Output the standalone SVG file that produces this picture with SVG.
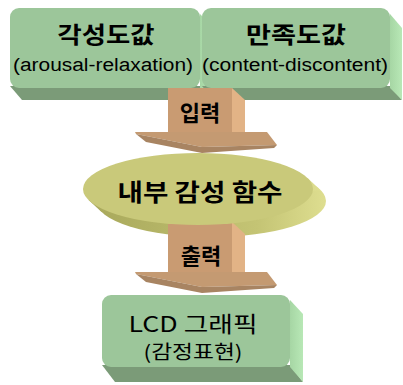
<svg xmlns="http://www.w3.org/2000/svg" width="403" height="385" viewBox="0 0 403 385">
<defs>
<style>
.front{fill:#9cc69a}
.bottom{fill:#7b9b78}
.side{fill:url(#gside)}
.ashaft{fill:#c99b72}
.aside{fill:#e2b386}
.alight{fill:#c49a72}
.adark{fill:#a88462}
.kr{font-family:"Noto Sans CJK KR","Noto Sans",sans-serif;fill:#000;text-anchor:middle}
.lat{font-family:"Liberation Sans","DejaVu Sans",sans-serif;fill:#000;text-anchor:middle}
</style>
<linearGradient id="gside" x1="0" y1="0" x2="1" y2="0">
<stop offset="0" stop-color="#a6d6a4"/>
<stop offset="1" stop-color="#b8e8b6"/>
</linearGradient>
<linearGradient id="gell" x1="0" y1="0" x2="1" y2="0">
<stop offset="0" stop-color="#a9a95c"/>
<stop offset="0.7" stop-color="#c4c474"/>
<stop offset="1" stop-color="#dede90"/>
</linearGradient>
</defs>

<g id="box-arousal">
<polygon class="bottom" points="10,86 200,86 212,100 22,100"/>
<polygon class="side" points="200,14 212,26 212,100 200,88"/>
<rect class="front" x="10" y="8" width="190" height="80" rx="9"/>
<text class="kr" x="106" y="43" font-size="23" font-weight="bold" textLength="97" lengthAdjust="spacingAndGlyphs">각성도값</text>
<text class="lat" x="103" y="71" font-size="18" textLength="180" lengthAdjust="spacingAndGlyphs">(arousal-relaxation)</text>
</g>

<g id="box-content">
<polygon class="bottom" points="202,86 390,86 402,100 214,100"/>
<polygon class="side" points="390,14 402,28 402,100 390,88"/>
<rect class="front" x="202" y="8" width="188" height="80" rx="9"/>
<text class="kr" x="296" y="43" font-size="23" font-weight="bold" textLength="100" lengthAdjust="spacingAndGlyphs">만족도값</text>
<text class="lat" x="295" y="71" font-size="18" textLength="186" lengthAdjust="spacingAndGlyphs">(content-discontent)</text>
</g>

<g id="connectors">
<g id="arrow-input">
<polygon class="aside" points="232,88 245,100 245,140 232,132"/>
<rect class="ashaft" x="168" y="88" width="64" height="45"/>
<polygon class="alight" points="135,132 267,132 277,145 202,147 136,134"/>
<polygon class="adark" points="136,134 202,147 277,145 274,148 202,153 146,142"/>
<text class="kr" x="200" y="121" font-size="22" font-weight="bold">입력</text>
</g>
</g>

<g id="ellipse-function">
<ellipse cx="211" cy="201" rx="115" ry="36" fill="url(#gell)"/>
<polygon points="307.7,178.2 320.7,190.2 101.3,211.8 88.3,199.8" fill="url(#gell)"/>
</g>

<g id="arrow-output-shaft">
<polygon class="aside" points="232,222 245,234 245,280 232,272"/>
<rect class="ashaft" x="168" y="222" width="64" height="51"/>
</g>

<g id="ellipse-front">
<ellipse cx="198" cy="189" rx="115" ry="36" fill="#c9c97a"/>
<text class="kr" x="200" y="201" font-size="24" font-weight="bold" textLength="165" lengthAdjust="spacingAndGlyphs">내부 감성 함수</text>
</g>

<g id="box-lcd">
<polygon class="bottom" points="102,365 290,365 303,382 115,382"/>
<polygon class="side" points="290,300 303,314 303,382 290,367"/>
<rect class="front" x="102" y="295" width="188" height="72" rx="9"/>
<text class="kr" x="193" y="332" font-size="22" textLength="129" lengthAdjust="spacingAndGlyphs">LCD 그래픽</text>
<text class="kr" x="193" y="359" font-size="19" textLength="99" lengthAdjust="spacingAndGlyphs">(감정표현)</text>
</g>

<g id="arrow-output-head">
<polygon class="alight" points="135,272 267,272 277,285 202,287 136,274"/>
<polygon class="adark" points="136,274 202,287 277,285 274,288 202,293 146,282"/>
<text class="kr" x="201" y="264" font-size="22" font-weight="bold">출력</text>
</g>
</svg>
